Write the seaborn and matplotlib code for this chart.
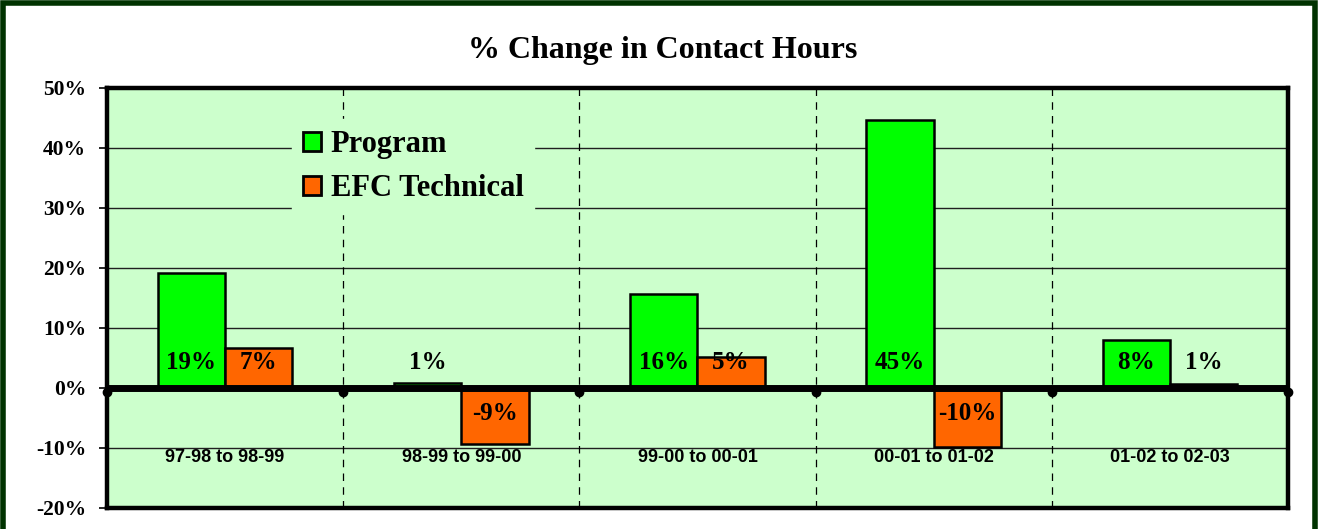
import matplotlib
matplotlib.use("Agg")
import matplotlib.pyplot as plt
from matplotlib.patches import Patch, Rectangle
import numpy as np
import pandas as pd
import seaborn as sns

# data (percent change)
periods = ["97-98 to 98-99", "98-99 to 99-00", "99-00 to 00-01", "00-01 to 01-02", "01-02 to 02-03"]
series_names = ["Program", "EFC Technical"]
program_change = [19.1, 0.8, 15.7, 44.7, 8.0]
efc_change = [6.6, -9.3, 5.2, -9.9, 0.6]
y_ticks = [-20, -10, 0, 10, 20, 30, 40, 50]

colors = {"Program": "#00FF00", "EFC Technical": "#FF6600"}
bg = "#CCFFCC"

df = pd.DataFrame({
    "period": periods * 2,
    "series": [series_names[0]] * len(periods) + [series_names[1]] * len(periods),
    "change": program_change + efc_change,
})

sns.set_style("white")
plt.rcParams["font.family"] = ["Liberation Serif", "DejaVu Serif"]
plt.rcParams["font.weight"] = "bold"
plt.rcParams["text.color"] = "black"
plt.rcParams["ytick.color"] = "black"
plt.rcParams["ytick.labelcolor"] = "black"

fig = plt.figure(figsize=(13.18, 5.29), dpi=100)
ax = fig.add_axes([0.0812, 0.0397, 0.896, 0.794])
ax.set_facecolor(bg)

sns.barplot(data=df, x="period", y="change", hue="series", order=periods,
            hue_order=series_names, palette=colors, width=0.57,
            edgecolor="black", linewidth=1.8, saturation=1, legend=False,
            ax=ax, zorder=3)

ax.set_xlim(-0.5, len(periods) - 0.5)
ax.set_ylim(y_ticks[0], y_ticks[-1])
ax.set_yticks(y_ticks)
ax.set_yticklabels([f"{t}%" for t in y_ticks], fontsize=15.5, fontweight="bold", color="black")
ax.set_xticks([])
ax.set_xlabel("")
ax.set_ylabel("")
ax.tick_params(axis="y", direction="out", length=6, width=1.2, pad=9, left=True, colors="black")

# horizontal gridlines and dashed separators between periods
for t in y_ticks[1:-1]:
    ax.axhline(t, color="#202020", lw=1.0, zorder=1)
for b in np.arange(0.5, len(periods) - 0.5, 1.0):
    ax.axvline(b, color="black", lw=0.9, ls=(0, (6, 5)), zorder=1)

# thick zero line with little dots at the boundaries
bounds = np.arange(-0.5, len(periods), 1.0)
ax.plot([-0.5, len(periods) - 0.5], [0, 0], color="black", lw=5, zorder=4,
        solid_capstyle="butt", clip_on=False)
ax.plot(bounds, [-0.7] * len(bounds), "o", color="black", ms=6, zorder=4, clip_on=False)

for sp in ax.spines.values():
    sp.set_linewidth(3.2)
    sp.set_color("black")
    sp.set_zorder(5)

# value labels, inside the base of each bar
for cont, vals in zip(ax.containers, [program_change, efc_change]):
    for patch, v in zip(cont.patches, vals):
        xc = patch.get_x() + patch.get_width() / 2
        yl = 4.3 if v >= 0 else -4.3
        ax.text(xc, yl, f"{round(v):.0f}%", ha="center", va="center",
                fontsize=18, fontweight="bold", color="black", zorder=6)

# period names sit inside the plot below the zero line
for i, p in enumerate(periods):
    ax.text(i, -11.6, p, ha="center", va="center", fontsize=13,
            fontweight="bold", family="Liberation Sans", color="black", zorder=6)

handles = [Patch(facecolor=colors[s], edgecolor="black", linewidth=2) for s in series_names]
leg = ax.legend(handles, series_names, loc="upper left", bbox_to_anchor=(0.157, 0.925),
                prop={"family": "Liberation Serif", "weight": "bold", "size": 22},
                frameon=True, facecolor=bg, edgecolor=bg, framealpha=1, fancybox=False,
                handlelength=0.6, handleheight=0.6, handletextpad=0.3,
                labelspacing=0.5, borderpad=0.35, borderaxespad=0)
for txt in leg.get_texts():
    txt.set_color("black")
leg.set_zorder(7)

fig.suptitle("% Change in Contact Hours", x=0.503, y=0.905, va="center",
             fontsize=23, fontweight="bold", color="black")

# dark green frame around the whole chart
fig.patches.append(Rectangle((0.002, -0.05), 0.996, 1.045, transform=fig.transFigure,
                             fill=False, edgecolor="#003300", linewidth=4, zorder=10))

fig.savefig("out.png", dpi=100, facecolor="white")
